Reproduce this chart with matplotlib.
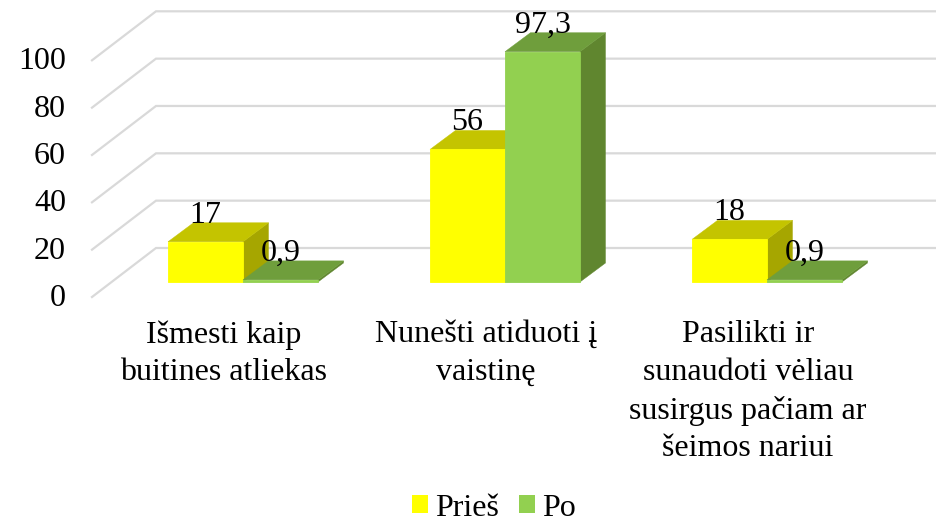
import numpy as np
import matplotlib.pyplot as plt
from matplotlib.patches import Polygon, Patch

plt.rcParams['font.family'] = ['Liberation Serif', 'DejaVu Serif']

categories = ["Išmesti kaip\nbuitines atliekas",
              "Nunešti atiduoti į\nvaistinę",
              "Pasilikti ir\nsunaudoti vėliau\nsusirgus pačiam ar\nšeimos nariui"]
pries = [17, 56, 18]
po = [0.9, 97.3, 0.9]
pries_labels = ["17", "56", "18"]
po_labels = ["0,9", "97,3", "0,9"]
y_ticks = [0, 20, 40, 60, 80, 100]

W, H = 936, 523
PX_CAT = 262.0      # px per category
PX_VAL = 2.367      # px per value unit
X0_PX, Y0_PX = 243.0, 282.0

BAR_W = 75 / PX_CAT
DEPTH_X = 25.5 / PX_CAT
DEPTH_Y = 19 / PX_VAL
# floor / wall offsets relative to the plane the bars stand in
BACK_X = (156 - X0_PX) / PX_CAT
FRONT_X = (92 - X0_PX) / PX_CAT
BACK_Y = (Y0_PX - 248) / PX_VAL
FRONT_Y = (Y0_PX - 297) / PX_VAL

FS = 23

fig = plt.figure(figsize=(W / 100, H / 100), dpi=100)
ax = fig.add_axes([0, 0, 1, 1])
ax.set_xlim(-X0_PX / PX_CAT, (W - X0_PX) / PX_CAT)
ax.set_ylim(-(H - Y0_PX) / PX_VAL, Y0_PX / PX_VAL)
ax.axis("off")


def bar3d(x, val, front, top, side):
    x1 = x + BAR_W
    ax.add_patch(Polygon([(x1, 0), (x1 + DEPTH_X, DEPTH_Y), (x1 + DEPTH_X, val + DEPTH_Y), (x1, val)],
                         fc=side, ec=side, lw=0.3, zorder=3))
    ax.add_patch(Polygon([(x, val), (x1, val), (x1 + DEPTH_X, val + DEPTH_Y), (x + DEPTH_X, val + DEPTH_Y)],
                         fc=top, ec=top, lw=0.3, zorder=3))
    ax.add_patch(Polygon([(x, 0), (x1, 0), (x1, val), (x, val)],
                         fc=front, ec=front, lw=0.6, zorder=3))


# gridlines: back wall + left side wall
for v in y_ticks:
    ax.plot([FRONT_X, BACK_X, ax.get_xlim()[1]], [v + FRONT_Y, v + BACK_Y, v + BACK_Y],
            color="#D9D9D9", lw=1.6, zorder=1, solid_joinstyle="miter")
    ax.text(FRONT_X - 26 / PX_CAT, v + FRONT_Y + 2.0 / PX_VAL, str(v), ha="right", va="center_baseline",
            fontsize=FS, color="black", zorder=5)

for i in range(len(categories)):
    bar3d(i - BAR_W, pries[i], "#FFFF00", "#C4C400", "#A6A600")
    bar3d(i, po[i], "#92D050", "#6F9E3C", "#60862F")
    ax.text(i - BAR_W / 2, pries[i] + DEPTH_Y, pries_labels[i], ha="center", va="baseline",
            fontsize=FS, color="black", zorder=5)
    ax.text(i + BAR_W / 2, po[i] + DEPTH_Y, po_labels[i], ha="center", va="baseline",
            fontsize=FS, color="black", zorder=5)
    ax.text(i - 19 / PX_CAT, -(320 - Y0_PX) / PX_VAL, categories[i], ha="center", va="top",
            fontsize=FS, color="black", linespacing=1.39, zorder=5)

handles = [Patch(fc="#FFFF00", label="Prieš"), Patch(fc="#92D050", label="Po")]
fig.legend(handles=handles, loc="center", bbox_to_anchor=(494 / W, 1 - 508 / H), ncol=2, frameon=False,
           fontsize=FS, handlelength=0.5, handleheight=0.5, handletextpad=0.22, columnspacing=0.63,
           borderpad=0)

fig.savefig("out.png", dpi=100)
